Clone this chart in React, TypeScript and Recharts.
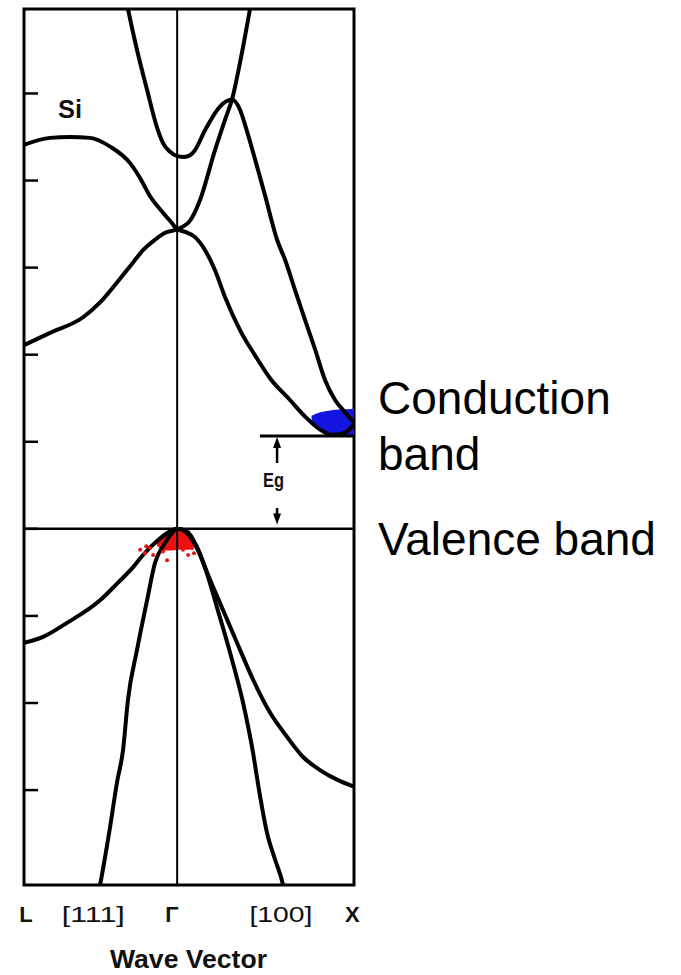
import React from 'react';
import {
  ComposedChart,
  Line,
  Area,
  Scatter,
  XAxis,
  YAxis,
  ReferenceLine,
  ReferenceArea,
} from 'recharts';

// ---- axes ----
const kDomain: [number, number] = [-0.866, 1.0]; // L ... Γ ... X
const eDomain: [number, number] = [-4.09, 5.97]; // energy (eV), VB top = 0
const energyTicks = [-3, -2, -1, 0, 1, 2, 3, 4, 5];
const kTickPositions = [-0.855, -0.474, -0.03, 0.587, 0.99];
const kTickLabels = ['L', '[111]', 'Γ', '[100]', 'X'];

// ---- bands [k, E] ----
const cbUpperL: [number, number][] = [
  [-0.866, 4.41], [-0.719, 4.49], [-0.606, 4.5], [-0.493, 4.49], [-0.379, 4.39],
  [-0.266, 4.2], [-0.21, 4.03], [-0.153, 3.82], [-0.08, 3.63], [-0.029, 3.51],
  [0, 3.44], [0.045, 3.41], [0.101, 3.35], [0.158, 3.2], [0.214, 2.97],
  [0.271, 2.66], [0.356, 2.28], [0.441, 1.99], [0.525, 1.73], [0.638, 1.48],
  [0.723, 1.29], [0.808, 1.14], [0.876, 1.08], [0.944, 1.1], [1.0, 1.2],
];
const cbLowerL: [number, number][] = [
  [-0.866, 2.11], [-0.719, 2.25], [-0.532, 2.43], [-0.436, 2.6], [-0.34, 2.83],
  [-0.249, 3.06], [-0.193, 3.2], [-0.125, 3.32], [-0.068, 3.4], [0, 3.44],
  [0.073, 3.54], [0.13, 3.78], [0.214, 4.35], [0.271, 4.7], [0.31, 4.93],
  [0.356, 5.36], [0.412, 5.97], [0.457, 6.48],
];
const cbValley: [number, number][] = [
  [-0.3, 6.19], [-0.278, 5.97], [-0.227, 5.5], [-0.17, 5.04], [-0.114, 4.61],
  [-0.08, 4.43], [-0.04, 4.33], [0, 4.28], [0.039, 4.27], [0.073, 4.29],
  [0.101, 4.35], [0.158, 4.58], [0.242, 4.85], [0.31, 4.93], [0.356, 4.81],
  [0.384, 4.64], [0.441, 4.24], [0.497, 3.83], [0.565, 3.32], [0.61, 3.09],
  [0.667, 2.74], [0.723, 2.4], [0.78, 2.06], [0.836, 1.71], [0.893, 1.48],
  [0.949, 1.34], [1.0, 1.22],
];
const vbHeavy: [number, number][] = [
  [-0.866, -1.31], [-0.758, -1.24], [-0.623, -1.08], [-0.436, -0.82], [-0.34, -0.63],
  [-0.249, -0.44], [-0.193, -0.3], [-0.114, -0.14], [-0.057, -0.05], [0, 0],
  [0.056, -0.03], [0.113, -0.21], [0.175, -0.53], [0.242, -0.85], [0.339, -1.31],
  [0.429, -1.73], [0.525, -2.11], [0.622, -2.39], [0.712, -2.62], [0.808, -2.77],
  [0.904, -2.88], [1.0, -2.96],
];
const vbLight: [number, number][] = [
  [-0.447, -4.2], [-0.436, -4.09], [-0.379, -3.42], [-0.34, -2.91], [-0.306, -2.54],
  [-0.278, -1.96], [-0.227, -1.39], [-0.17, -0.82], [-0.125, -0.39], [-0.068, -0.16],
  [-0.029, -0.05], [0, 0], [0.045, -0.03], [0.101, -0.18], [0.158, -0.45],
  [0.225, -0.9], [0.299, -1.42], [0.373, -2.0], [0.429, -2.57], [0.463, -3.0],
  [0.508, -3.49], [0.554, -3.8], [0.599, -4.09], [0.61, -4.2],
];

// ---- carriers ----
const holeK = [-0.115, -0.09, -0.06, -0.03, 0, 0.03, 0.06, 0.09, 0.105];
const holeTop = [-0.14, -0.08, -0.03, -0.01, -0.01, -0.01, -0.03, -0.09, -0.14];
const holeBottom = [-0.19, -0.23, -0.25, -0.25, -0.24, -0.24, -0.24, -0.21, -0.17];
const holeSpecks: [number, number][] = [
  [-0.209, -0.24], [-0.182, -0.28], [-0.153, -0.22], [-0.136, -0.3], [-0.175, -0.2],
  [-0.097, -0.18], [-0.08, -0.26], [-0.057, -0.36], [-0.04, -0.22],
  [0.033, -0.24], [0.062, -0.3], [0.084, -0.22], [0.095, -0.28],
];
const electronK = [0.76, 0.81, 0.865, 0.92, 1.0];
const electronTop = [1.3, 1.34, 1.36, 1.37, 1.38];
const electronBottom = [1.2, 1.13, 1.07, 1.06, 1.06];

// ---- gap annotation ----
const egLevel = 1.066;
const egLineStart = 0.468;
const egArrowK = 0.565;
const egUpArrow = [0.756, 1.055];
const egDownArrow = [0.24, 0.05];

const toPts = (arr: [number, number][]) => arr.map(([k, E]) => ({ k, E }));
const holeData = holeK.map((k, i) => ({ k, range: [holeBottom[i], holeTop[i]] }));
const electronData = electronK.map((k, i) => ({ k, range: [electronBottom[i], electronTop[i]] }));

const scanFont = '"Liberation Sans", Arial, sans-serif';

const KTick = (props: any) => {
  const { x, y, payload } = props;
  const idx = kTickPositions.indexOf(payload.value);
  const label = kTickLabels[idx] ?? '';
  const bracket = label.startsWith('[');
  return (
    <text
      x={x}
      y={y + 37}
      textAnchor="middle"
      fontFamily={scanFont}
      fontSize={22}
      fontWeight={bracket ? 'normal' : 'bold'}
      fill="#111"
      {...(bracket ? { textLength: 63, lengthAdjust: 'spacingAndGlyphs' } : {})}
    >
      {label}
    </text>
  );
};

const arrowShape = (props: any) => {
  const { x1, y1, x2, y2 } = props;
  const dir = y2 > y1 ? 1 : -1;
  return (
    <g>
      <line x1={x1} y1={y1} x2={x2} y2={y2 - dir * 6} stroke="#000" strokeWidth={2.5} />
      <polygon
        points={`${x2},${y2} ${x2 - 4},${y2 - dir * 11} ${x2 + 4},${y2 - dir * 11}`}
        fill="#000"
      />
    </g>
  );
};

const lineProps = {
  type: 'monotone' as const,
  dataKey: 'E',
  stroke: '#000',
  strokeWidth: 4,
  dot: false,
  activeDot: false,
  isAnimationActive: false,
  strokeLinejoin: 'round' as const,
  strokeLinecap: 'round' as const,
};

export default function App() {
  return (
    <div style={{ position: 'absolute', left: 0, top: 0, width: 681, height: 975, background: '#fff' }}>
      <ComposedChart
        width={681}
        height={975}
        margin={{ top: 9, left: 24, right: 327, bottom: 60 }}
      >
        <XAxis
          type="number"
          dataKey="k"
          domain={kDomain}
          allowDataOverflow
          ticks={kTickPositions}
          interval={0}
          tick={<KTick />}
          tickLine={false}
          axisLine={false}
          tickSize={0}
          tickMargin={0}
          height={30}
        />
        <YAxis
          type="number"
          domain={eDomain}
          allowDataOverflow
          ticks={energyTicks}
          mirror
          tickSize={14}
          tickLine={{ stroke: '#000', strokeWidth: 2.5 }}
          tickFormatter={() => ''}
          axisLine={false}
        />
        <ReferenceArea
          x1={kDomain[0]}
          x2={kDomain[1]}
          y1={eDomain[0]}
          y2={eDomain[1]}
          fill="none"
          stroke="#000"
          strokeWidth={3}
          ifOverflow="visible"
        />
        <ReferenceLine x={0} stroke="#000" strokeWidth={2} />
        <ReferenceLine y={0} stroke="#000" strokeWidth={2.5} />
        <ReferenceLine
          segment={[{ x: egLineStart, y: egLevel }, { x: kDomain[1], y: egLevel }]}
          stroke="#000"
          strokeWidth={3}
        />
        <ReferenceLine
          segment={[{ x: egArrowK, y: egUpArrow[0] }, { x: egArrowK, y: egUpArrow[1] }]}
          shape={arrowShape}
        />
        <ReferenceLine
          segment={[{ x: egArrowK, y: egDownArrow[0] }, { x: egArrowK, y: egDownArrow[1] }]}
          shape={arrowShape}
        />
        <Line data={toPts(cbUpperL)} {...lineProps} />
        <Line data={toPts(cbLowerL)} {...lineProps} />
        <Line data={toPts(cbValley)} {...lineProps} />
        <Line data={toPts(vbHeavy)} {...lineProps} />
        <Line data={toPts(vbLight)} {...lineProps} />
        <Area
          data={electronData}
          dataKey="range"
          type="monotone"
          fill="#1414e0"
          fillOpacity={1}
          stroke="none"
          isAnimationActive={false}
          dot={false}
          activeDot={false}
        />
        <Area
          data={holeData}
          dataKey="range"
          type="monotone"
          fill="#ee1111"
          fillOpacity={1}
          stroke="none"
          isAnimationActive={false}
          dot={false}
          activeDot={false}
        />
        <Scatter
          data={toPts(holeSpecks)}
          dataKey="E"
          fill="#ee1111"
          isAnimationActive={false}
          shape={(p: any) => <circle cx={p.cx} cy={p.cy} r={2} fill="#ee1111" />}
        />
      </ComposedChart>
      <svg
        width={681}
        height={975}
        style={{ position: 'absolute', left: 0, top: 0, pointerEvents: 'none' }}
      >
        <text x={58} y={118} fontFamily={scanFont} fontSize={25} fontWeight="bold" fill="#111"
          textLength={24} lengthAdjust="spacingAndGlyphs">Si</text>
        <text x={263} y={487} fontFamily={scanFont} fontSize={21} fontWeight="bold" fill="#111"
          textLength={21} lengthAdjust="spacingAndGlyphs">Eg</text>
        <text x={110} y={968} fontFamily={scanFont} fontSize={25} fontWeight="bold" fill="#111"
          textLength={157} lengthAdjust="spacingAndGlyphs">Wave Vector</text>
        <text x={378} y={414} fontFamily={scanFont} fontSize={46} fill="#000">Conduction</text>
        <text x={378} y={470} fontFamily={scanFont} fontSize={46} fill="#000">band</text>
        <text x={378} y={555} fontFamily={scanFont} fontSize={46} fill="#000">Valence band</text>
      </svg>
    </div>
  );
}
